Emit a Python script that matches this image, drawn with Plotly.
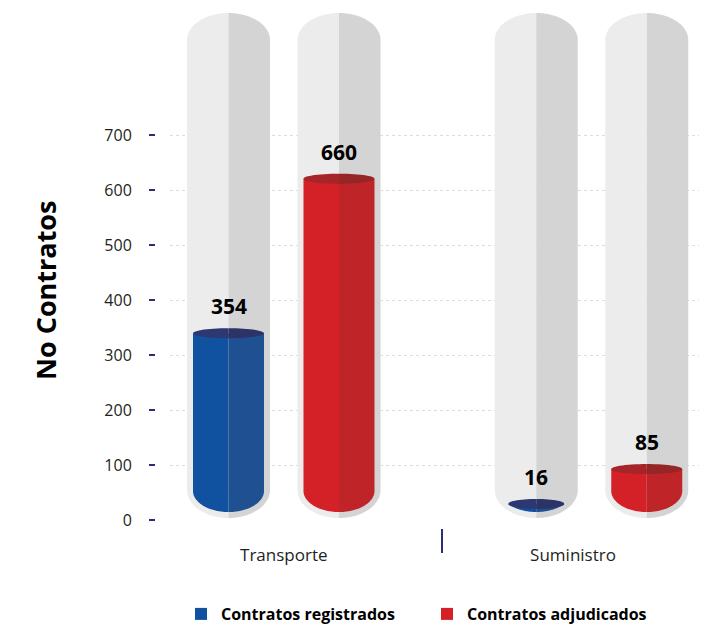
import numpy as np
import plotly.graph_objects as go

categories = ["Transporte", "Suministro"]
series_names = ["Contratos registrados", "Contratos adjudicados"]
registrados = [354, 16]
adjudicados = [660, 85]
y_ticks = [0, 100, 200, 300, 400, 500, 600, 700]

# palette: (left half, right half) for the two-tone cylinder look
BLUE = ("#1052A0", "#1F5092")
BLUE_TOP = ("#2D3771", "#2B3367")
RED = ("#D42027", "#BF2428")
RED_TOP = ("#A52528", "#952527")
TUBE = ("#EDECED", "#D5D4D5")
NAVY = "#2B2E72"
INK = "#231F20"
FONT = "Open Sans"

# page pixels (the html body adds an 8px offset, so the figure is shifted)
W, H = 707, 624
PAD = 8
PLOT_L, PLOT_R = 155, 700
GRID_L = 170
PLOT_T, PLOT_B = 8, 528
Y0_PX, Y_PX_PER = 520, 0.55        # visible axis: 0 at 520px
F0_PX, F_PX_PER = 512, 0.505       # cylinder fill scale (bowl bottom = 0)
X0_PX, X_PX_PER = 283.75, 307.75   # first category centre, px per category


def ypx(px):
    return (Y0_PX - px) / Y_PX_PER


def paper_x(px):
    return (px - PLOT_L) / (PLOT_R - PLOT_L)


def paper_y(px):
    return (PLOT_B - px) / (PLOT_B - PLOT_T)


OFFSET = 55.25 / X_PX_PER
TUBE_HW = 41.5 / X_PX_PER
FILL_HW = 35.5 / X_PX_PER
FILL_RY = 21 / F_PX_PER
CAP_RY = 5 / F_PX_PER


def half_outline(xc, hw, y_bot, y_top, ry_bot, ry_top, s, n=30):
    h = y_top - y_bot
    tmax = float(np.arccos(np.clip((ry_bot - h) / ry_bot, 0, 1)))
    t = np.linspace(0, tmax, n)
    xs = list(xc + s * hw * np.sin(t))
    ys = list(y_bot + ry_bot - ry_bot * np.cos(t))
    if ry_top > 0:
        p = np.linspace(0, np.pi / 2, n)
        xs += list(xc + s * hw * np.cos(p))
        ys += list(y_top - ry_top + ry_top * np.sin(p))
    else:
        xs += [xc + s * hw * np.sin(tmax), xc]
        ys += [y_top, y_top]
    return xs + [xc], ys + [y_bot], hw * np.sin(tmax)


def half_ellipse(xc, yc, w, ry, s, n=30):
    a = np.linspace(-np.pi / 2, np.pi / 2, n)
    xs = list(xc + s * w * np.cos(a))
    ys = list(yc + ry * np.sin(a))
    return xs + [xc], ys + [yc - ry]


def poly(xs, ys, color, yaxis="y2"):
    return go.Scatter(x=xs, y=ys, fill="toself", fillcolor=color, mode="none",
                      yaxis=yaxis, hoverinfo="skip", showlegend=False)


fig = go.Figure()
annotations = []

series = [(registrados, BLUE, BLUE_TOP), (adjudicados, RED, RED_TOP)]
for i, (vals, body, top) in enumerate(series):
    for j, v in enumerate(vals):
        xc = j + (2 * i - 1) * OFFSET
        # background glass tube (decoration, in visible-axis units)
        for k, s in enumerate((-1, 1)):
            xs, ys, _ = half_outline(xc, TUBE_HW, ypx(518), ypx(13),
                                     28 / Y_PX_PER, 27 / Y_PX_PER, s)
            fig.add_trace(poly(xs, ys, TUBE[k], yaxis="y"))
        # rounded bottom of the liquid
        for k, s in enumerate((-1, 1)):
            xs, ys, w = half_outline(xc, FILL_HW, 0, min(v, FILL_RY + 0.5),
                                     FILL_RY, 0, s)
            fig.add_trace(poly(xs, ys, body[k]))
        w = FILL_HW * np.sin(np.arccos(np.clip((FILL_RY - v) / FILL_RY, 0, 1)))
        # straight part of the liquid column
        for k in range(2):
            fig.add_trace(go.Bar(
                x=[xc], y=[max(v - FILL_RY, 0)], base=[FILL_RY],
                width=[FILL_HW], offset=-FILL_HW if k == 0 else 0,
                marker=dict(color=body[k], line=dict(width=0)),
                yaxis="y2", name=series_names[i], legendgroup=series_names[i],
                showlegend=(j == 0 and k == 0), hoverinfo="skip"))
        # top cap
        for k, s in enumerate((-1, 1)):
            xs, ys = half_ellipse(xc, v, w, CAP_RY, s)
            fig.add_trace(poly(xs, ys, top[k]))
        annotations.append(dict(x=xc, y=v, xref="x", yref="y2", yshift=27,
                                text=f"<b>{v}</b>", showarrow=False,
                                font=dict(family=FONT, size=21, color="#000")))

annotations.append(dict(
    x=paper_x(45), y=paper_y(290), xref="paper", yref="paper",
    xanchor="center", yanchor="middle",
    text="<b>No Contratos</b>", textangle=-90, showarrow=False,
    font=dict(family=FONT, size=27, color="#000")))

fig.update_layout(
    width=W - PAD, height=H - PAD,
    margin=dict(l=PLOT_L - PAD, r=W - PLOT_R, t=PLOT_T - PAD, b=H - PLOT_B,
                autoexpand=False),
    paper_bgcolor="white", plot_bgcolor="white",
    font=dict(family=FONT, color=INK),
    hovermode=False, barmode="overlay",
    annotations=annotations,
    xaxis=dict(
        domain=[paper_x(GRID_L), 1],
        range=[(GRID_L - X0_PX) / X_PX_PER, (PLOT_R - X0_PX) / X_PX_PER],
        tickvals=[0, 0.94], ticktext=categories, ticks="",
        tickfont=dict(size=17, color=INK), ticklabelstandoff=15,
        minor=dict(tickvals=[0.514], ticks="outside", ticklen=24,
                   tickwidth=2, tickcolor=NAVY),
        showgrid=False, zeroline=False, showline=False,
    ),
    yaxis=dict(
        anchor="free", position=0,
        range=[ypx(PLOT_B), ypx(PLOT_T)],
        tickvals=y_ticks, ticks="outside", ticklen=6, tickwidth=2,
        tickcolor=NAVY, tickfont=dict(size=16, color=INK), ticklabelstandoff=14,
        showgrid=True, gridcolor="#DCDCDC", griddash="dot", gridwidth=1,
        # no grid line at zero in the original
        zeroline=True, zerolinecolor="white", zerolinewidth=1,
        showline=False,
    ),
    yaxis2=dict(
        overlaying="y", visible=False,
        range=[(F0_PX - PLOT_B) / F_PX_PER, (F0_PX - PLOT_T) / F_PX_PER],
    ),
    legend=dict(
        orientation="h", x=paper_x(181), y=paper_y(614), yanchor="middle",
        font=dict(family=FONT, size=16, color="#000", weight="bold"),
        entrywidth=201,
    ),
)

fig.write_html("out.html")
